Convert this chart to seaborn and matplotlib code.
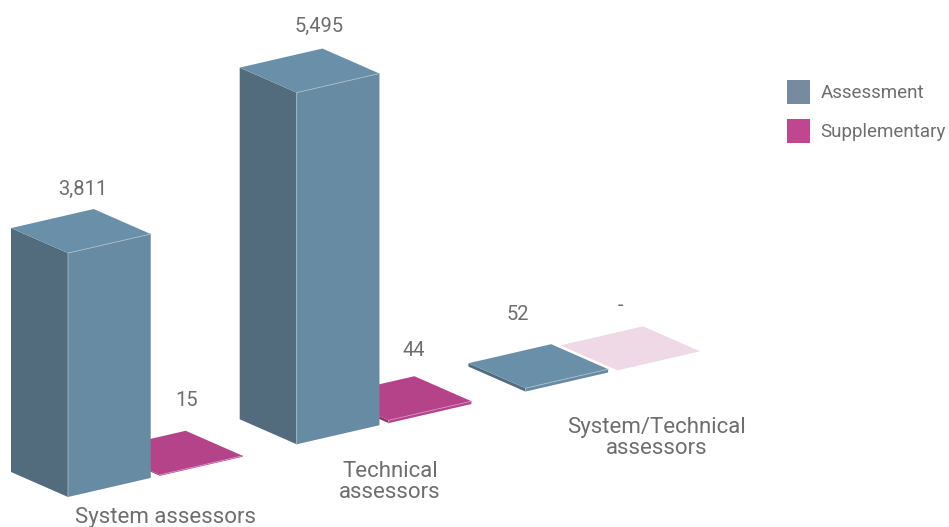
import matplotlib
matplotlib.use("Agg")
import matplotlib.pyplot as plt
import pandas as pd
import seaborn as sns
from matplotlib.patches import Patch
from matplotlib.transforms import Affine2D

categories = ["System assessors", "Technical\nassessors", "System/Technical\nassessors"]
series_names = ["Assessment", "Supplementary"]
assessment = [3811, 5495, 52]
supplementary = [15, 44, 0]

# where the value and category labels sit, in image pixels
assessment_label_xy = [(83, 189), (319, 26), (518, 314)]
supplementary_label_xy = [(187, 401), (414, 351), (620, 305)]
category_label_xy = [(166, 518), (390, 482), (657, 438)]

TEXT = "#6e6e6e"
FRONT = {"Assessment": "#678ba3", "Supplementary": "#b5438a"}
TOP = {"Assessment": "#6a90a9", "Supplementary": "#b5438a"}
SIDE = {"Assessment": "#526c7d", "Supplementary": "#8e3670"}
EDGE = {"Assessment": "#a8bcc9", "Supplementary": "#d58fbb"}
LEGEND = ["#768ba0", "#c0468f"]
PALE = "#f0d9e7"

# oblique projection: bar width along the ground, value up, depth back-left
PX_PER_CAT = 228.7
RISE = 0.2305
PX_PER_VALUE = 0.064
DEPTH = (-57, -25)
ORIGIN = (68, 497)

plt.rcParams["font.family"] = ["Roboto", "DejaVu Sans"]

df = pd.DataFrame({
    "category": categories * 2,
    "series": [series_names[0]] * 3 + [series_names[1]] * 3,
    "value": assessment + supplementary,
})

fig = plt.figure(figsize=(9.49, 5.27), dpi=100)
ax = fig.add_axes([0, 0, 1, 1])
sns.barplot(data=df, x="category", y="value", hue="series", hue_order=series_names,
            palette=dict(zip(series_names, LEGEND)), saturation=1,
            width=0.804, gap=0.1, legend=False, linewidth=0, ax=ax)
ax.set_xlim(0, 949)
ax.set_ylim(527, 0)
ax.axis("off")

x_left = ax.containers[0][0].get_x()


def project(x, v, depth=0.0):
    dx = (x - x_left) * PX_PER_CAT
    return (ORIGIN[0] + dx + DEPTH[0] * depth,
            ORIGIN[1] - dx * RISE - v * PX_PER_VALUE + DEPTH[1] * depth)


skew = Affine2D.from_values(
    PX_PER_CAT, -PX_PER_CAT * RISE, 0, -PX_PER_VALUE,
    ORIGIN[0] - x_left * PX_PER_CAT, ORIGIN[1] + x_left * PX_PER_CAT * RISE,
)

for name, container, order in zip(series_names, ax.containers, [1, 0]):
    for i, bar in enumerate(container):
        x0, w, v = bar.get_x(), bar.get_width(), bar.get_height()
        x1 = x0 + w
        z = 10 + 10 * i + order
        top_color = PALE if v == 0 else TOP[name]
        bar.set_facecolor(FRONT[name])
        bar.set_transform(skew + ax.transData)
        bar.set_zorder(z + 0.2)

        left = [project(x0, 0), project(x0, v), project(x0, v, 1), project(x0, 0, 1)]
        ax.fill(*zip(*left), color=SIDE[name], lw=0, zorder=z)
        top = [project(x0, v), project(x1, v), project(x1, v, 1), project(x0, v, 1)]
        ax.fill(*zip(*top), color=top_color, lw=0, zorder=z + 0.1)
        if v > 0:
            rim = [project(x0, 0), project(x0, v), project(x1, v)]
            ax.plot(*zip(*rim), color=EDGE[name], lw=0.6, zorder=z + 0.3)

for values, positions in [(assessment, assessment_label_xy), (supplementary, supplementary_label_xy)]:
    for v, (px, py) in zip(values, positions):
        ax.text(px, py, f"{v:,}" if v else "-", ha="center", va="center",
                fontsize=14.5, color=TEXT, zorder=100)

for label, (px, py) in zip(categories, category_label_xy):
    ax.text(px, py, label, ha="center", va="center", fontsize=16,
            color=TEXT, linespacing=1.0, zorder=100)

handles = [Patch(facecolor=c, label=n) for c, n in zip(LEGEND, series_names)]
ax.legend(handles=handles, loc="upper left", bbox_to_anchor=(787 / 949, 1 - 80 / 527),
          frameon=False, fontsize=13.5, labelcolor=TEXT, borderpad=0, borderaxespad=0,
          handlelength=1.23, handleheight=1.58, handletextpad=0.55, labelspacing=0.83)

fig.savefig("out.png", dpi=100)
